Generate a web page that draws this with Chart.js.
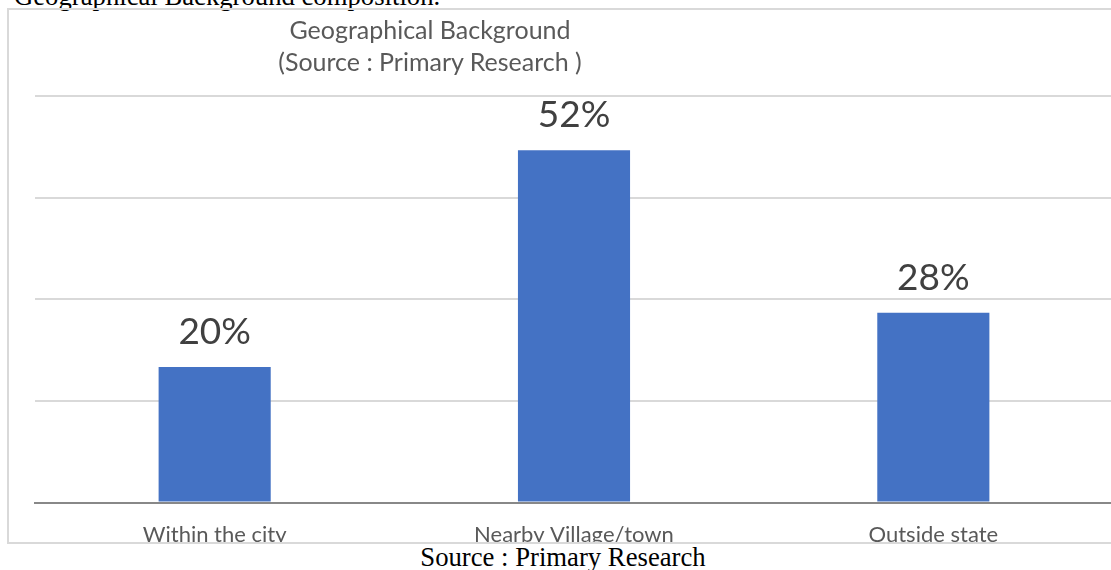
<!DOCTYPE html>
<html>
<head>
<meta charset="utf-8">
<title>Geographical Background</title>
<script src="https://cdn.jsdelivr.net/npm/chart.js@4.4.1/dist/chart.umd.min.js"></script>
<style>
    html, body { margin: 0; padding: 0; background: #ffffff; width: 1111px; height: 570px; overflow: hidden; position: relative; }
    .doc-text { position: absolute; font-family: "Liberation Serif", "Times New Roman", serif; font-size: 26.7px; color: #000; white-space: nowrap; line-height: 1; }
    #caption-top { left: 14px; top: -17px; }
    #caption-bottom { left: 0; width: 1126px; text-align: center; top: 544px; }
    #frame { position: absolute; left: 7px; top: 8px; width: 1110px; height: 532px; border: 2px solid #d9d9d9; border-right: none; overflow: hidden; }
    #chart-title { position: absolute; left: 0; width: 842px; top: 3px; text-align: center; font-family: Lato, "Open Sans", sans-serif; font-size: 25px; line-height: 32px; color: #595959; }
    canvas { position: absolute; left: 0; top: 0; }
</style>
</head>
<body>
<div class="doc-text" id="caption-top">Geographical Background composition.</div>
<div id="frame">
    <canvas id="geoChart" width="1104" height="557"></canvas>
    <div id="chart-title">Geographical Background<br>(Source : Primary Research )</div>
</div>
<div class="doc-text" id="caption-bottom">Source : Primary Research</div>

<script>
const categories = ['Within the city', 'Nearby Village/town', 'Outside state'];
const shares = [20, 52, 28];
const yTicks = [0, 15, 30, 45, 60];

// percentage label above each bar
const barLabels = {
    id: 'barLabels',
    afterDatasetsDraw(chart) {
        const ctx = chart.ctx;
        const meta = chart.getDatasetMeta(0);
        ctx.save();
        ctx.font = '37px Lato, "Open Sans", sans-serif';
        ctx.fillStyle = '#404040';
        ctx.textAlign = 'center';
        ctx.textBaseline = 'alphabetic';
        meta.data.forEach((bar, i) => {
            ctx.fillText(shares[i] + '%', bar.x, bar.y - 23);
        });
        ctx.restore();
    }
};

const ctx = document.getElementById('geoChart').getContext('2d');
window.geoChartInstance = new Chart(ctx, {
    type: 'bar',
    data: {
        labels: categories,
        datasets: [{
            data: shares,
            backgroundColor: '#4472c4',
            borderWidth: 0,
            barPercentage: 1,
            categoryPercentage: 0.312
        }]
    },
    options: {
        responsive: false,
        animation: false,
        layout: { padding: { left: 26, right: 0, top: 86, bottom: 0 } },
        plugins: {
            legend: { display: false },
            tooltip: { enabled: false }
        },
        scales: {
            x: {
                grid: { display: false, drawTicks: false },
                border: { display: true, color: '#888888', width: 2 },
                ticks: {
                    padding: 19,
                    color: '#595959',
                    font: { family: 'Lato, "Open Sans", sans-serif', size: 22 }
                }
            },
            y: {
                min: 0,
                max: 60,
                afterBuildTicks: (axis) => { axis.ticks = yTicks.map(v => ({ value: v })); },
                grid: { color: '#d9d9d9', lineWidth: 2, drawTicks: false },
                border: { display: false },
                ticks: { display: false }
            }
        }
    },
    plugins: [barLabels]
});
</script>
</body>
</html>
